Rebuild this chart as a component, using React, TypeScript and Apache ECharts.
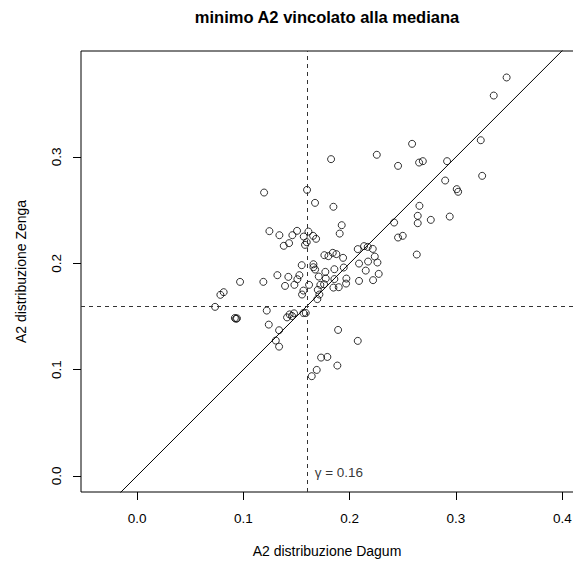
import React, { useEffect, useRef } from "react";
import * as echarts from "echarts";

// A2 distribuzione Dagum (x) and A2 distribuzione Zenga (y)
const dagum: number[] = [
  0.3476, 0.3355, 0.2587, 0.3233, 0.2455, 0.2653, 0.2688, 0.2916, 0.2898, 0.3246,
  0.3007, 0.302, 0.2656, 0.2418, 0.264, 0.264, 0.2763, 0.2941, 0.2455, 0.2499,
  0.2631, 0.1825, 0.2255, 0.1599, 0.1195, 0.1674, 0.1847, 0.1925, 0.1906, 0.1245,
  0.1339, 0.1461, 0.1505, 0.1612, 0.1568, 0.1656, 0.1684, 0.143, 0.138, 0.158,
  0.1596, 0.1762, 0.18, 0.1841, 0.1875, 0.1938, 0.2076, 0.2135, 0.217, 0.2217,
  0.2236, 0.2261, 0.2173, 0.2088, 0.2151, 0.2273, 0.222, 0.2088, 0.1944, 0.1856,
  0.1969, 0.1966, 0.1771, 0.1659, 0.1659, 0.1675, 0.1549, 0.1709, 0.1775, 0.1527,
  0.1508, 0.1423, 0.132, 0.148, 0.1392, 0.1618, 0.1724, 0.1759, 0.1847, 0.1897,
  0.1188, 0.0969, 0.1856, 0.1565, 0.1587, 0.1565, 0.1552, 0.17, 0.1715, 0.1696,
  0.1411, 0.1435, 0.1458, 0.1477, 0.1891, 0.2076, 0.1731, 0.179, 0.1884, 0.169,
  0.1643, 0.0815, 0.0784, 0.0734, 0.122, 0.092, 0.0931, 0.094, 0.1239, 0.1336,
  0.1305, 0.1336,
];
const zenga: number[] = [
  0.3747, 0.3577, 0.3123, 0.3157, 0.2916, 0.2947, 0.296, 0.296, 0.2778, 0.2822,
  0.2697, 0.2672, 0.254, 0.2383, 0.2446, 0.2377, 0.2408, 0.2439, 0.2242, 0.2258,
  0.2082, 0.2979, 0.302, 0.269, 0.2665, 0.2568, 0.2531, 0.2358, 0.2279, 0.2302,
  0.2264, 0.2264, 0.2305, 0.2298, 0.2251, 0.2258, 0.223, 0.2189, 0.2164, 0.2173,
  0.2198, 0.2076, 0.2067, 0.2098, 0.2086, 0.2051, 0.2133, 0.2161, 0.2154, 0.2135,
  0.2063, 0.2007, 0.2016, 0.1997, 0.1931, 0.19, 0.1841, 0.1834, 0.196, 0.1944,
  0.1856, 0.1809, 0.1919, 0.1991, 0.1963, 0.1941, 0.1982, 0.1875, 0.1856, 0.1888,
  0.185, 0.1872, 0.1888, 0.1797, 0.1787, 0.1797, 0.1797, 0.1803, 0.1771, 0.1775,
  0.1825, 0.1825, 0.1851, 0.1532, 0.1532, 0.1743, 0.1706, 0.175, 0.1706, 0.1663,
  0.1491, 0.1519, 0.1504, 0.1529, 0.1373, 0.127, 0.1113, 0.1119, 0.1038, 0.0997,
  0.0938, 0.1728, 0.1703, 0.159, 0.1555, 0.1485, 0.1478, 0.1482, 0.1423, 0.137,
  0.1273, 0.1216,
];

const gamma = 0.16;
const xTicks: number[] = [0, 0.1, 0.2, 0.3, 0.4];
const yTicks: number[] = [0, 0.1, 0.2, 0.3];
const xRange: number[] = [-0.0527, 0.4138];
const yRange: number[] = [-0.0151, 0.3996];

const titleText = "minimo A2 vincolato alla mediana";
const xName = "A2 distribuzione Dagum";
const yName = "A2 distribuzione Zenga";

const FONT = '"Liberation Sans", Arial, Helvetica, sans-serif';

export default function App() {
  const ref = useRef<HTMLDivElement>(null);

  useEffect(() => {
    if (!ref.current) return;
    const chart = echarts.init(ref.current, undefined, { renderer: "svg" });
    const points = dagum.map((x, i) => [x, zenga[i]]);
    const axisCommon = {
      type: "value",
      scale: true,
      splitLine: { show: false },
      axisLine: { show: false, onZero: false },
    };
    chart.setOption({
      animation: false,
      backgroundColor: "#ffffff",
      grid: {
        left: 81,
        top: 51,
        right: -4,
        bottom: 71,
        show: true,
        borderColor: "#000",
        borderWidth: 1,
        backgroundColor: "transparent",
        containLabel: false,
        outerBoundsMode: "none",
      },
      xAxis: {
        ...axisCommon,
        position: "bottom",
        min: xRange[0],
        max: xRange[1],
        axisTick: {
          show: true,
          inside: false,
          length: 8,
          lineStyle: { color: "#000", width: 1 },
          customValues: xTicks,
        },
        axisLabel: {
          customValues: xTicks,
          formatter: (v: number) => v.toFixed(1),
          margin: 19,
          fontSize: 13.5,
          color: "#000",
          fontFamily: FONT,
        },
      },
      yAxis: {
        ...axisCommon,
        position: "left",
        min: yRange[0],
        max: yRange[1],
        axisTick: {
          show: true,
          inside: false,
          length: 8,
          lineStyle: { color: "#000", width: 1 },
          customValues: yTicks,
        },
        axisLabel: {
          customValues: yTicks,
          formatter: (v: number) => v.toFixed(1),
          rotate: 90,
          margin: 18,
          fontSize: 13.5,
          color: "#000",
          fontFamily: FONT,
        },
      },
      graphic: [
        {
          type: "text",
          x: 327,
          y: 17,
          style: {
            text: titleText,
            fontFamily: FONT,
            fontWeight: "bold",
            fontSize: 16.5,
            fill: "#000",
            textAlign: "center",
            textVerticalAlign: "middle",
          },
        },
        {
          type: "text",
          x: 327,
          y: 550.5,
          style: {
            text: xName,
            fontFamily: FONT,
            fontSize: 14,
            fill: "#000",
            textAlign: "center",
            textVerticalAlign: "middle",
          },
        },
        {
          type: "text",
          x: 21,
          y: 271.5,
          rotation: Math.PI / 2,
          style: {
            text: yName,
            fontFamily: FONT,
            fontSize: 14,
            fill: "#000",
            textAlign: "center",
            textVerticalAlign: "middle",
          },
        },
      ],
      series: [
        {
          type: "line",
          data: [
            [xRange[0], xRange[0]],
            [xRange[1], xRange[1]],
          ],
          symbol: "none",
          clip: true,
          silent: true,
          lineStyle: { color: "#000", width: 1 },
          markLine: {
            silent: true,
            symbol: ["none", "none"],
            label: { show: false },
            lineStyle: { type: [4, 4], color: "#333", width: 1 },
            data: [{ xAxis: gamma }, { yAxis: gamma }],
          },
          z: 1,
        },
        {
          type: "scatter",
          data: points,
          symbol: "circle",
          symbolSize: 7,
          itemStyle: { color: "transparent", borderColor: "#000", borderWidth: 1 },
          z: 2,
        },
        {
          type: "scatter",
          data: [[gamma, 0]],
          symbolSize: 1,
          itemStyle: { color: "transparent" },
          label: {
            show: true,
            position: "right",
            distance: 7,
            offset: [0, -3],
            formatter: () => `γ = ${gamma}`,
            fontSize: 13.5,
            color: "#000",
            fontFamily: FONT,
          },
          z: 3,
        },
      ],
    });
    return () => chart.dispose();
  }, []);

  return (
    <div
      ref={ref}
      style={{ position: "fixed", left: 0, top: 0, width: 573, height: 563, background: "#fff" }}
    />
  );
}
